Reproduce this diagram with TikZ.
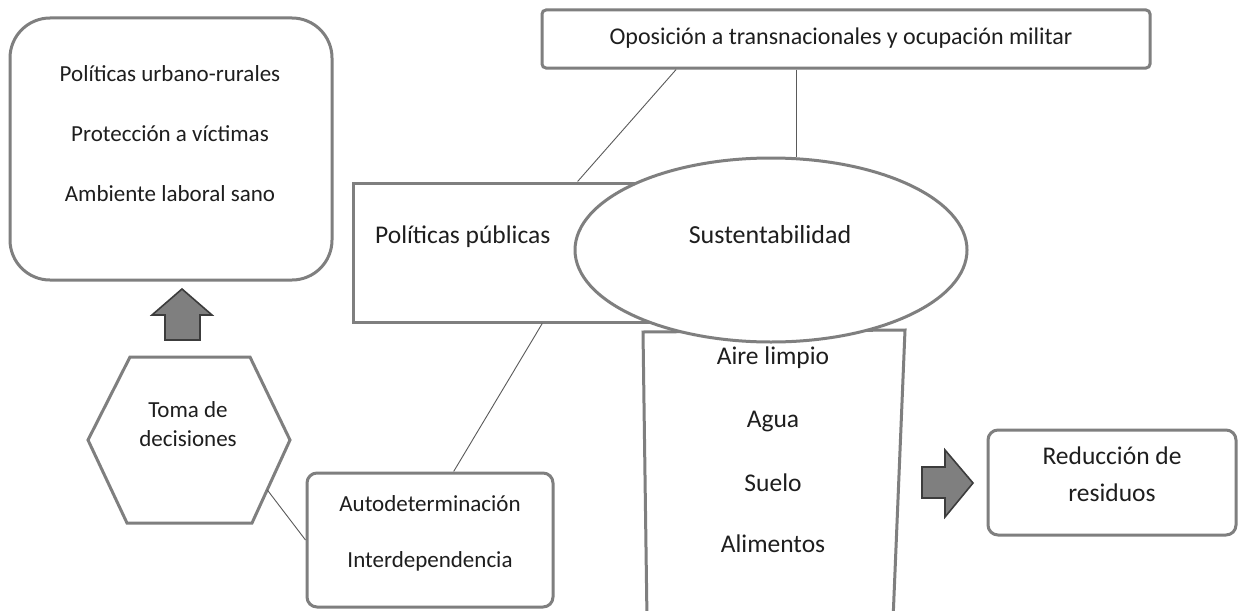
\documentclass[tikz,border=0pt]{standalone}
\usepackage{fontspec}
\setmainfont{Carlito}
\usetikzlibrary{calc,shapes.geometric}
\definecolor{bord}{HTML}{7F7F7F}
\definecolor{conn}{HTML}{5A5A5A}
\definecolor{arrfill}{HTML}{7F7F7F}
\definecolor{arrline}{HTML}{3C3C3C}
\definecolor{ink}{HTML}{1E1E1E}
\tikzset{
  boxline/.style={draw=bord, line width=3pt, fill=white, inner sep=0pt},
  conline/.style={draw=conn, line width=0.9pt},
  blockarrow/.style={draw=arrline, fill=arrfill, line width=1.6pt, line join=miter},
  lbl/.style={inner sep=0pt, text height=0.95em, text depth=0pt, text=ink, font=\fontsize{23}{28}\selectfont},
  lblbig/.style={lbl, font=\fontsize{25.5}{30}\selectfont},
}
\begin{document}
\begin{tikzpicture}[x=1pt,y=-1pt]
\useasboundingbox (0,0) rectangle (1238,610);
\fill[white] (0,0) rectangle (1238,610);
\clip (0,0) rectangle (1238,610);

% top-left rounded box
\node[boxline, rounded corners=40pt, minimum width=322pt, minimum height=262pt] (tl) at (171,149) {};
\node[lbl] (tl1) at (170,77) {Políticas urbano-rurales};
\node[lbl] (tl2) at (170,137) {Protección a víctimas};
\node[lbl] (tl3) at (170,197) {Ambiente laboral sano};

% up arrow
\draw[blockarrow] (165,340) -- (165,315) -- (152,315) -- (182,289) -- (212,315) -- (200,315) -- (200,340) -- cycle;

% hexagon
\coordinate (hexTL) at (130,357);
\coordinate (hexTR) at (250,357);
\coordinate (hexR) at (290,440);
\coordinate (hexBR) at (252,523);
\coordinate (hexBL) at (127,523);
\coordinate (hexL) at (88,440);
\draw[boxline, line join=miter] (hexTL) -- (hexTR) -- (hexR) -- (hexBR) -- (hexBL) -- (hexL) -- cycle;
\node[lbl] (toma1) at (188,413) {Toma de};
\node[lbl] (toma2) at (188,442) {decisiones};

% Autodeterminacion box
\node[boxline, rounded corners=10pt, minimum width=246pt, minimum height=134pt] (auto) at (430,540) {};
\node[lbl] (auto1) at (430,507) {Autodeterminación};
\node[lbl] (auto2) at (430,563) {Interdependencia};

% Oposicion box
\node[boxline, rounded corners=4pt, minimum width=608pt, minimum height=58pt] (op) at (846,39) {};
\node[lbl, font=\fontsize{24}{28}\selectfont] (opt) at (841,40) {Oposición a transnacionales y ocupación militar};

% Politicas publicas box
\node[boxline, minimum width=347pt, minimum height=139pt] (pp) at (526.5,252.5) {};
\node[lblbig, anchor=west] (ppt) at (375,239) {Políticas públicas};

% Aire box (extends below the picture)
\coordinate (aTL) at (643,332);
\coordinate (aTR) at (905,330);
\coordinate (aBR) at (893,620);
\coordinate (aBL) at (647,620);
\draw[boxline] (aTL) -- (aTR) -- (aBR) -- (aBL) -- cycle;
\node[lblbig] (a1) at (773,360) {Aire limpio};
\node[lblbig] (a2) at (773,423) {Agua};
\node[lblbig] (a3) at (773,487) {Suelo};
\node[lblbig] (a4) at (773,548) {Alimentos};

% Sustentabilidad ellipse
\node[boxline, ellipse, minimum width=392pt, minimum height=184pt] (sus) at (771,250) {};
\node[lblbig, font=\fontsize{26}{30}\selectfont] (sust) at (770,239) {Sustentabilidad};

% right arrow
\draw[blockarrow] (922,467) -- (945,467) -- (945,450) -- (973,483) -- (945,517) -- (945,498) -- (922,498) -- cycle;

% Reduccion box
\node[boxline, rounded corners=10pt, minimum width=248pt, minimum height=105pt] (red) at (1112,482.5) {};
\node[lblbig] (red1) at (1112,460) {Reducción de};
\node[lblbig] (red2) at (1112,497) {residuos};

% connectors
\draw[conline] ($(op.south west)!0.222!(op.south east)$) -- ($(pp.north west)!0.646!(pp.north east)$);
\coordinate (opv) at ($(op.south west)!0.419!(op.south east)$);
\draw[conline] (opv) -- (opv |- sus.north);
\draw[conline] ($(auto.north west)!0.595!(auto.north east)$) -- ($(pp.south west)!0.545!(pp.south east)$);
\draw[conline] ($(hexR)!0.6!(hexBR)$) -- (auto.west);
\end{tikzpicture}
\end{document}
